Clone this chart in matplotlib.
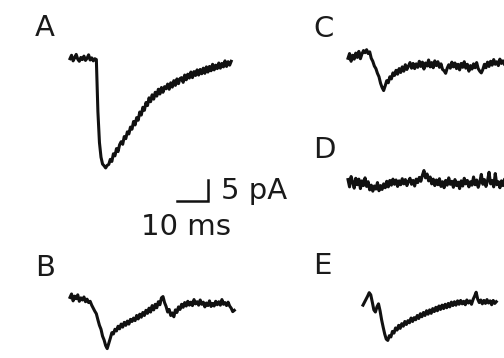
import numpy as np
import matplotlib.pyplot as plt

plt.rcParams["font.family"] = ["DejaVu Sans"]

dt_ms = 0.5
trace_a = [0.3, 1.1, -0.2, 0.5, 1.3, 0.2, -0.3, 0.6, 0.1, 0.9, -0.1, 0.4, 1.2, 0.0, 0.5, -0.2, 0.3, 0.1,
           -12.0, -19.2, -22.6, -24.2, -24.6, -25.1, -24.5, -24.3,
           -23.1, -23.6, -21.8, -22.3, -20.6, -21.3, -19.7, -19.0, -19.6, -17.8,
           -18.3, -16.7, -17.2, -15.6, -16.1, -14.3, -15.1, -13.4, -14.0, -12.1,
           -12.8, -11.0, -11.7, -9.9, -10.6, -8.8, -9.7, -8.1, -9.1, -7.5,
           -8.4, -6.8, -7.9, -6.4, -7.5, -6.2, -6.7, -5.6, -6.8, -5.3,
           -6.3, -4.8, -5.9, -4.4, -5.5, -4.3, -4.1, -5.2, -3.5, -4.6,
           -3.3, -4.2, -2.8, -4.1, -2.7, -3.6, -2.3, -3.5, -2.2, -3.2,
           -1.9, -3.1, -1.6, -2.8, -1.5, -2.5, -1.0, -2.3, -1.2, -2.0,
           -0.7, -1.9, -0.8, -1.6, -0.2, -1.5, -0.4, -1.2, -0.3]
trace_b = [0.6, 1.4, -0.2, 0.9, 0.3, 1.2, -0.3, 0.5, 0.0, 0.7, -0.4, 0.2, -0.6, -0.3,
           -1.2, -1.9, -2.6, -3.2, -4.6, -5.9, -6.8, -8.4, -9.3, -10.6, -11.3, -10.1,
           -8.9, -7.6, -7.9, -6.8, -7.2, -6.1, -6.7, -5.6, -6.3, -5.2,
           -5.9, -4.9, -5.6, -4.5, -5.0, -4.2, -4.8, -3.6, -4.4, -3.3,
           -4.0, -2.9, -3.6, -2.4, -3.1, -1.9, -2.8, -1.3, -2.3, -1.0,
           -1.8, -0.4, -1.1, 0.5, 0.8, -0.6, -1.5, -2.8, -2.2, -3.6,
           -3.0, -3.9, -2.3, -2.9, -1.6, -2.2, -1.0, -1.7, -0.6, -1.4,
           -0.3, -1.2, -0.5, -1.3, 0.1, -0.9, -0.4, -1.2, 0.0, -1.0,
           -0.5, -1.6, -0.7, -1.3, -0.2, -1.5, -0.8, -1.4, -0.3, -1.1,
           -0.4, -1.2, 0.1, -1.0, -0.6, -1.3, -0.5, -1.4, -1.9, -2.7, -2.4]
trace_c = [0.4, 1.5, -0.3, 1.1, 0.2, 1.6, 0.6, 2.0, 0.3, 1.4, 2.2, 1.7,
           2.4, 1.5, 1.9, 0.4, -0.3, -1.4, -2.0, -3.1, -3.9, -5.4, -6.4, -7.1,
           -6.0, -4.8, -5.3, -3.9, -4.4, -3.0, -3.6, -2.4, -3.3, -2.0,
           -2.9, -1.6, -2.6, -1.1, -2.2, -1.4, -0.6, -1.9, -0.8, -2.0,
           -0.9, -1.7, -0.3, -1.5, -0.5, -2.1, -0.7, -1.4, 0.0, -1.6,
           -0.6, -1.8, -0.2, -1.3, -0.4, -1.7, -0.9, -2.2, -2.5, -3.1,
           -1.9, -1.1, -1.9, -0.5, -1.6, -0.7, -2.0, -1.0, -2.3, -0.8,
           -1.7, -0.4, -1.9, -1.0, -2.6, -1.3, -2.1, -0.9, -1.8, -0.6,
           -2.0, -2.6, -3.0, -2.2, -1.0, -1.8, -0.5, -1.5, -0.3, -1.2,
           0.1, -1.0, -0.4, -1.3, 0.2, -0.8, -0.2, -1.1, -0.3]
trace_d = [0.8, -0.9, 1.5, 0.2, -1.2, 1.1, -0.4, 0.9, -1.3, 0.5, -0.6, 1.2,
           -0.8, 0.3, -1.6, -0.5, -1.9, -0.7, -1.4, 0.1, -1.8, -0.6, -1.5, -0.2,
           -1.1, 0.4, -0.9, 0.6, -0.5, 0.9, -0.3, 0.7, -0.8, 0.5,
           -0.4, 1.0, -0.2, 0.8, -0.6, 0.4, 1.1, -0.3, 0.6, -0.7,
           0.9, 0.1, 1.3, 0.4, 1.8, 2.9, 1.2, 2.1, 0.5, 1.4,
           -0.2, 0.9, -0.6, 0.7, -0.4, 1.0, -0.8, 0.3, -1.1, 0.6,
           -0.5, 1.2, -0.3, 0.4, -1.0, 0.8, -0.6, 0.2, -1.3, 0.5,
           -0.7, 1.1, -0.2, 0.6, -0.9, 0.3, -0.5, 1.4, -0.4, 0.7,
           -1.0, 0.2, 2.0, -0.3, 0.8, -0.8, 0.5, 2.5, -0.2, 0.6,
           -0.9, 2.2, -0.4, 0.3, -1.1, 0.5, -0.6, 0.9, -0.3]
trace_e = [-0.5, 0.2, 0.9, 1.6, 2.4, 1.9, 0.2, -1.6, -2.1, -0.9, -0.2, -1.8,
           -3.9, -5.6, -7.2, -8.4, -8.7, -7.6, -7.9, -6.6, -7.0, -5.8, -6.3, -5.2,
           -5.9, -4.8, -5.4, -4.3, -5.0, -4.1, -4.6, -3.5, -4.3, -3.4,
           -3.9, -2.9, -3.6, -2.5, -3.2, -2.2, -2.9, -1.8, -2.6, -1.6,
           -2.4, -1.3, -2.0, -1.0, -1.8, -0.7, -1.5, -0.5, -1.3, -0.3,
           -1.1, -0.1, -0.9, 0.2, -0.6, 0.3, -0.5, 0.5, -0.3, 0.6,
           -0.2, 0.4, -0.4, 0.7, 0.0, 0.5, -0.3, 0.8, 1.6, 2.5,
           0.9, 0.1, 0.7, -0.2, 0.6, -0.1, 0.8, 0.0, 0.5, -0.4,
           0.6, -0.1, 0.3]

panel_labels = ["A", "B", "C", "D", "E"]
bar_ms, bar_pa = 10, 5

W, H = 504, 358
PX_MS = 3.1   # pixels per ms
PX_PA = 4.3   # pixels per pA

fig = plt.figure(figsize=(W / 100, H / 100), dpi=100)
ax = fig.add_axes([0, 0, 1, 1])
ax.set_xlim(0, W / PX_MS)
ax.set_ylim(-H / PX_PA, 0)
ax.axis("off")

# where each trace starts, in pixels (layout only)
starts = {"A": (70, 60), "B": (70, 300), "C": (348, 60), "D": (348, 183), "E": (363, 303)}
traces = {"A": trace_a, "B": trace_b, "C": trace_c, "D": trace_d, "E": trace_e}

for key in panel_labels:
    y = np.array(traces[key])
    t = np.arange(len(y)) * dt_ms
    x0, y0 = starts[key]
    ax.plot(t + x0 / PX_MS, y - y0 / PX_PA, color="#111111", lw=2.2,
            solid_joinstyle="round")

# panel letters
label_pos = {"A": (45, 28), "B": (45, 268), "C": (324, 29), "D": (324, 150), "E": (322, 266)}
for key in panel_labels:
    lx, ly = label_pos[key]
    fig.text(lx / W, 1 - ly / H, key, fontsize=21, ha="center", va="center",
             color="#1a1a1a")

# scale bar, corner at pixel (208, 201)
cx, cy = 208 / PX_MS, -201 / PX_PA
ax.plot([cx - bar_ms, cx, cx], [cy, cy, cy + bar_pa], color="#111111", lw=1.8,
        solid_joinstyle="miter")
fig.text(221 / W, 1 - 191 / H, f"{bar_pa} pA", fontsize=21, ha="left", va="center",
         color="#1a1a1a")
fig.text(141 / W, 1 - 227 / H, f"{bar_ms} ms", fontsize=21, ha="left", va="center",
         color="#1a1a1a")

fig.savefig("out.png", dpi=100)
